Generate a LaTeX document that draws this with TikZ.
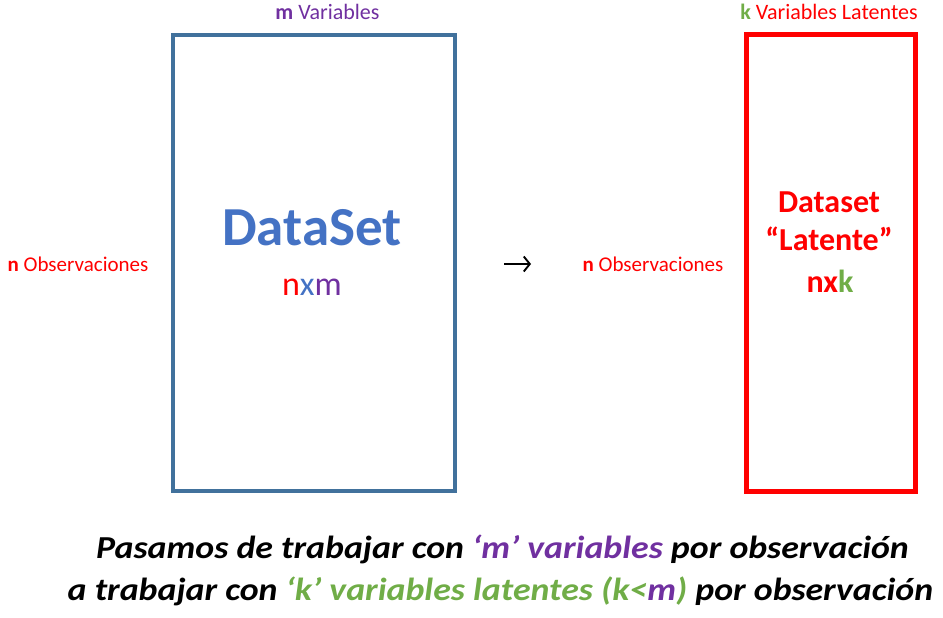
\documentclass[tikz,border=0pt]{standalone}
\usepackage{fontspec}
\setmainfont{Carlito}
\usetikzlibrary{arrows.meta}
\definecolor{boxblue}{HTML}{41719C}
\definecolor{textblue}{HTML}{4472C4}
\definecolor{varpurple}{HTML}{7030A0}
\definecolor{latgreen}{HTML}{70AD47}
\definecolor{latred}{HTML}{FF0000}
\tikzset{
	label/.style={font=\fontsize{21}{25}\selectfont, inner sep=0pt, anchor=base},
	big/.style={font=\fontsize{32}{38}\selectfont\bfseries, inner sep=0pt, anchor=base},
	summary/.style={font=\fontsize{32}{38}\selectfont\bfseries\itshape, inner sep=0pt, anchor=base}
}
\def\stretch{1.12}
\begin{document}
\begin{tikzpicture}[x=1pt,y=-1pt]
	%%%%% START %%%%%
	\def\xone{313.5}
	\def\xtwo{830.5}
	\def\ybox{263}
	\def\yobs{271}
	
	\useasboundingbox (0,0) rectangle (943,618);
	
	% boxes
	\node[draw=boxblue, line width=4pt, minimum width=282pt, minimum height=455pt, inner sep=0pt] (databox) at (\xone,\ybox) {};
	\node[draw=latred, line width=5pt, minimum width=169pt, minimum height=457pt, inner sep=0pt] (latbox) at (\xtwo,\ybox) {};
	
	% labels on top
	\node[label, font=\fontsize{22}{26}\selectfont, text=varpurple] (mvars) at (327.5,20) {\textbf{m} Variables};
	\node[label, font=\fontsize{22}{26}\selectfont, text=latred] (kvars) at (829,20) {\textcolor{latgreen}{\textbf{k}} Variables Latentes};
	
	% n observaciones
	\node[label, text=latred] (obsone) at (78,\yobs) {\textbf{n} Observaciones};
	\node[label, text=latred] (obstwo) at (653,\yobs) {\textbf{n} Observaciones};
	
	% contents of the boxes
	\node[big, font=\fontsize{55}{60}\selectfont\bfseries, text=textblue] (dataset) at (312,245) {DataSet};
	\node[big, font=\fontsize{34}{40}\selectfont] (nxm) at (312,295) {\textcolor{latred}{n}\textcolor{textblue}{x}\textcolor{varpurple}{m}};
	\node[big, text=latred] (latname) at (829,212) {Dataset};
	\node[big, text=latred] (latquote) at (829,250) {“Latente”};
	\node[big, text=latred] (nxk) at (830,292) {nx\textcolor{latgreen}{k}};
	
	% arrow
	\coordinate (arrowtail) at (504,264);
	\coordinate (arrowtip) at (531,264);
	\draw[line width=1.9pt, -{Straight Barb[length=6pt,width=15pt]}] (arrowtail) -- (arrowtip);
	
	% summary
	\node[summary] (lineone) at (502.5,558) {\scalebox{\stretch}[1]{Pasamos de trabajar con \textcolor{varpurple}{‘m’ variables} por observación}};
	\node[summary] (linetwo) at (500.5,600) {\scalebox{\stretch}[1]{a trabajar con \textcolor{latgreen}{‘k’ variables latentes (k<\textcolor{varpurple}{m})} por observación}};
	%%%%% END %%%%%
\end{tikzpicture}
\end{document}
